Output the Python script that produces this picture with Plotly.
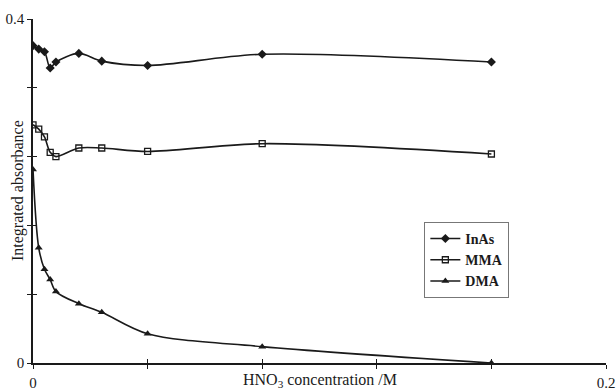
import plotly.graph_objects as go

conc = [0, 0.002, 0.004, 0.006, 0.008, 0.016, 0.024, 0.04, 0.08, 0.16]
inas = [0.369, 0.365, 0.362, 0.343, 0.350, 0.360, 0.351, 0.346, 0.359, 0.350]
mma = [0.277, 0.272, 0.263, 0.245, 0.240, 0.250, 0.250, 0.246, 0.255, 0.243]
dma = [0.225, 0.134, 0.109, 0.097, 0.083, 0.069, 0.059, 0.034, 0.019, 0.000]

x_ticks = [0, 0.04, 0.08, 0.12, 0.16, 0.2]
x_labels = ["0", "", "", "", "", "0.2"]
y_ticks = [0, 0.08, 0.16, 0.24, 0.32, 0.4]
y_labels = ["0", "", "", "", "", "0.4"]

FONT = "Liberation Serif"
INK = "#1a1a1a"

fig = go.Figure()
line = dict(color=INK, width=1.6, shape="spline", smoothing=0.9)
fig.add_trace(go.Scatter(x=conc, y=inas, name="InAs", mode="lines+markers", line=line,
                         marker=dict(symbol="diamond", size=7, color=INK)))
fig.add_trace(go.Scatter(x=conc, y=mma, name="MMA", mode="lines+markers", line=line,
                         marker=dict(symbol="square-open", size=6, color=INK, line=dict(width=1.3))))
fig.add_trace(go.Scatter(x=conc, y=dma, name="DMA", mode="lines+markers", line=line,
                         marker=dict(symbol="triangle-up", size=7, color=INK)))
# helper trace to anchor cross-tick overlay axes
fig.add_trace(go.Scatter(x=[None], y=[None], xaxis="x2", yaxis="y2", showlegend=False,
                         hoverinfo="skip", mode="markers"))

axis_common = dict(showgrid=False, zeroline=False, linecolor=INK, linewidth=1.5,
                   tickcolor=INK, tickwidth=1.3, ticklen=4, automargin=False,
                   tickfont=dict(family=FONT, size=15, color=INK))
fig.update_layout(
    width=616, height=390,
    margin=dict(l=33, r=10, t=19, b=27),
    paper_bgcolor="white", plot_bgcolor="white",
    font=dict(family=FONT, color=INK),
    xaxis=dict(range=[0, 0.2], tickvals=x_ticks, ticktext=x_labels, ticks="outside",
               showline=True, ticklabelstandoff=1, **axis_common),
    yaxis=dict(range=[0, 0.4], tickvals=y_ticks, ticktext=y_labels, ticks="outside",
               showline=True, ticklabelstandoff=0, **axis_common),
    xaxis2=dict(range=[0, 0.2], tickvals=x_ticks, ticks="inside", showticklabels=False,
                overlaying="x", showline=False, showgrid=False, zeroline=False,
                tickcolor=INK, tickwidth=1.3, ticklen=4, anchor="y2", automargin=False),
    yaxis2=dict(range=[0, 0.4], tickvals=y_ticks, ticks="inside", showticklabels=False,
                overlaying="y", showline=False, showgrid=False, zeroline=False,
                tickcolor=INK, tickwidth=1.3, ticklen=4, anchor="x2", automargin=False),
    legend=dict(x=0.683, y=0.41, xanchor="left", yanchor="top",
                bordercolor="#777", borderwidth=1, bgcolor="white",
                font=dict(family=FONT, size=14, color=INK, weight="bold"),
                tracegroupgap=0, itemwidth=30),
    showlegend=True,
    annotations=[
        dict(text="HNO<sub>3</sub> concentration /M", x=0.5, y=0, xref="paper", yref="paper",
             xanchor="center", yanchor="middle", yshift=-17, showarrow=False,
             font=dict(family=FONT, size=16, color=INK)),
        dict(text="Integrated absorbance", x=(18 - 33) / 573, y=0.5, xref="paper", yref="paper",
             xanchor="center", yanchor="middle", textangle=-90, showarrow=False,
             font=dict(family=FONT, size=16, color=INK)),
    ],
)

fig.write_html("out.html")
